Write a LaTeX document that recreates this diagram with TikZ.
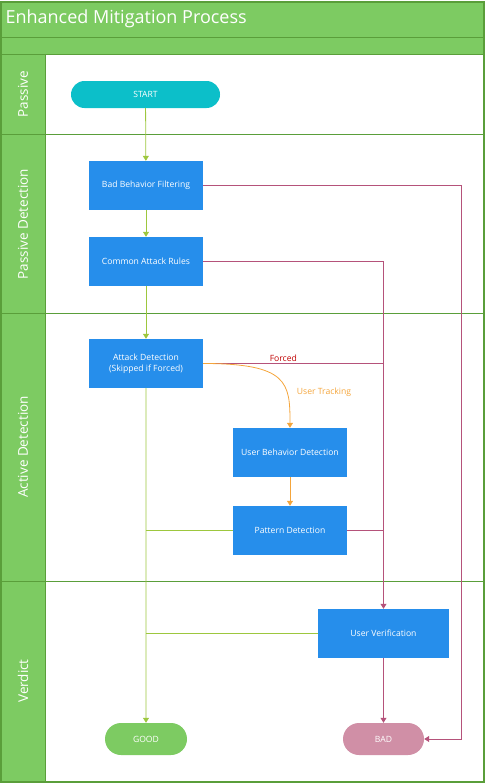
\documentclass[tikz,border=0pt]{standalone}
\usepackage{fontspec}
\setmainfont{Open Sans}
\usetikzlibrary{arrows.meta,positioning,shapes.misc}

\definecolor{lanefill}{HTML}{7DCB62}
\definecolor{laneline}{HTML}{5A9E3A}
\definecolor{boxblue}{HTML}{268EEB}
\definecolor{startcyan}{HTML}{0CBFC9}
\definecolor{goodgreen}{HTML}{7DCB62}
\definecolor{badpink}{HTML}{D08FA6}
\definecolor{flowgreen}{HTML}{9DC73E}
\definecolor{flowred}{HTML}{B5527A}
\definecolor{floworange}{HTML}{F4A53B}
\definecolor{forcedred}{HTML}{C00000}

\tikzset{
  procbox/.style={rectangle, fill=boxblue, text=white, minimum width=114pt, minimum height=49pt,
    align=center, inner sep=1pt, font=\fontsize{8.6}{11}\selectfont},
  termbox/.style={rounded rectangle, text=white, minimum height=32pt, inner xsep=2pt,
    font=\fontsize{8.6}{11}\selectfont},
  lanelabel/.style={rotate=90, text=white, font=\fontsize{13.5}{16}\selectfont},
  greenflow/.style={flowgreen, line width=0.8pt},
  redflow/.style={flowred, line width=0.8pt},
  orangeflow/.style={floworange, line width=0.8pt},
  tip/.style={-{Triangle[width=6pt,length=5pt]}}
}

\begin{document}
\begin{tikzpicture}[x=1pt, y=-1pt]
	\useasboundingbox (0,0) rectangle (487,784);
	% pool and lanes
	\fill[lanefill] (1,2) rectangle (484,54);
	\fill[lanefill] (1,54) rectangle (45,782);
	\draw[laneline, line width=1.2pt] (1,2) rectangle (484,782);
	\draw[laneline, line width=0.8pt] (1,37) -- (484,37);
	\draw[laneline, line width=0.8pt] (1,54) -- (484,54);
	\draw[laneline, line width=0.8pt] (45,54) -- (45,782);
	\foreach \y in {134,313,581}
		\draw[laneline, line width=0.8pt] (1,\y) -- (484,\y);
	\node[anchor=west, text=white, font=\fontsize{18}{21}\selectfont] (title) at (2,19) {Enhanced Mitigation Process};
	\node[lanelabel] (lanep) at (23,94) {Passive};
	\node[lanelabel] (lanepd) at (23,224) {Passive Detection};
	\node[lanelabel] (lanead) at (23,447) {Active Detection};
	\node[lanelabel] (lanev) at (23,681) {Verdict};

	% steps
	\node[termbox, fill=startcyan, minimum width=153pt, minimum height=27pt] (start) at (145.5,94.5) {START};
	\node[procbox] (bbf) at (146,185.5) {Bad Behavior Filtering};
	\node[procbox] (car) at (146,261.5) {Common Attack Rules};
	\node[procbox] (ad) at (146,363.5) {Attack Detection\\(Skipped if Forced)};
	\node[procbox] (ubd) at (290,452.5) {User Behavior Detection};
	\node[procbox] (pd) at (290,530.5) {Pattern Detection};
	\node[procbox, minimum width=131pt] (uv) at (383.5,633.5) {User Verification};
	\node[termbox, fill=goodgreen, minimum width=86pt] (good) at (146,739) {GOOD};
	\node[termbox, fill=badpink, minimum width=85pt] (bad) at (383.5,739) {BAD};

	% green flow
	\draw[greenflow, tip] (start) -- (bbf);
	\draw[greenflow, tip] (bbf) -- (car);
	\draw[greenflow, tip] (car) -- (ad);
	\draw[greenflow, tip] (ad) -- (good);
	\draw[greenflow] (pd.west) -- (ad.south |- pd.west);
	\draw[greenflow] (uv.west) -- (ad.south |- uv.west);

	% red flow
	\coordinate (rbus) at (461,0);
	\draw[redflow, tip] (bbf.east) -- (rbus |- bbf.east) -- (rbus |- bad.east) -- (bad.east);
	\draw[redflow, tip] (car.east) -- (uv.north |- car.east) -- (uv.north);
	\draw[redflow] (ad.east) -- (uv.north |- ad.east) node[midway, above, text=forcedred, font=\fontsize{8.6}{11}\selectfont, yshift=-1.5pt, xshift=-10pt] (forced) {Forced};
	\draw[redflow] (pd.east) -- (uv.north |- pd.east);
	\draw[redflow, tip] (uv) -- (bad);

	% orange flow
	\draw[orangeflow, tip] (ad.east) .. controls +(85,0) and +(0,-45) .. (ubd.north);
	\node[text=floworange, font=\fontsize{8.6}{11}\selectfont] (track) at (324,392) {User Tracking};
	\draw[orangeflow, tip] (ubd) -- (pd);
\end{tikzpicture}
\end{document}
